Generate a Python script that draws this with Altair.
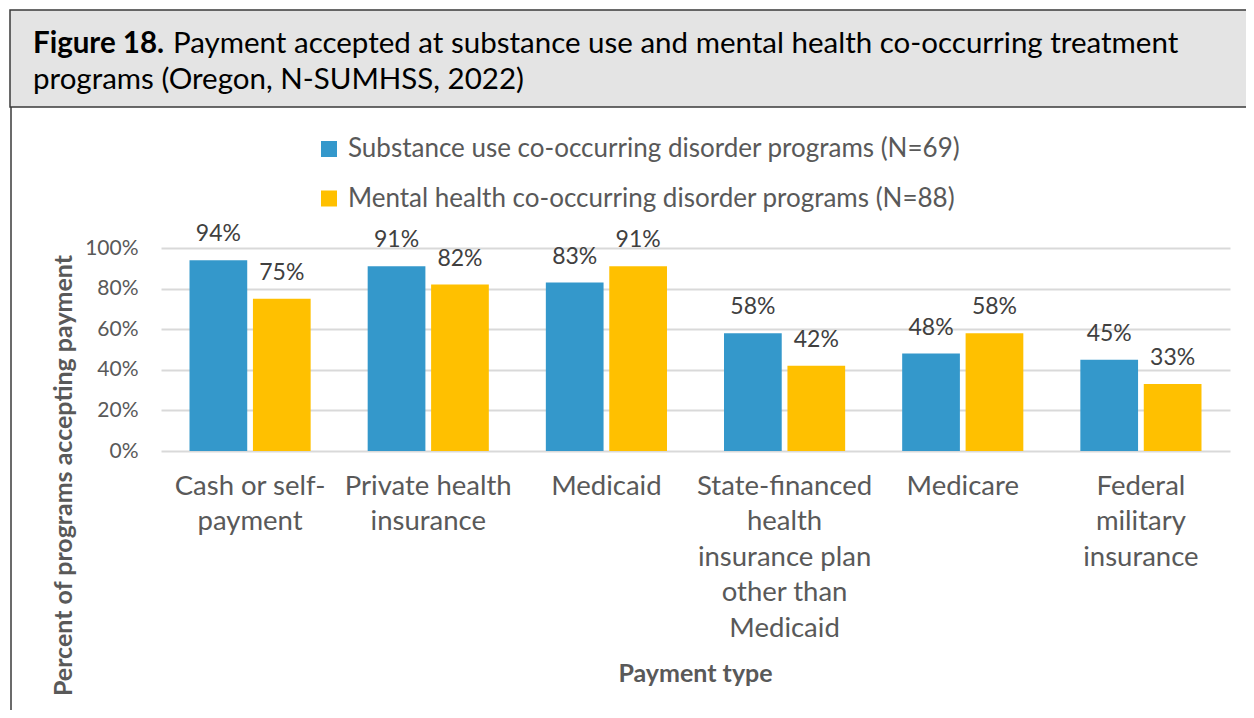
import altair as alt
import pandas as pd

categories = [
    "Cash or self-payment",
    "Private health insurance",
    "Medicaid",
    "State-financed health insurance plan other than Medicaid",
    "Medicare",
    "Federal military insurance",
]
label_lines = [
    ["Cash or self-", "payment"],
    ["Private health", "insurance"],
    ["Medicaid"],
    ["State-financed", "health", "insurance plan", "other than", "Medicaid"],
    ["Medicare"],
    ["Federal", "military", "insurance"],
]
series = [
    "Substance use co-occurring disorder programs (N=69)",
    "Mental health co-occurring disorder programs (N=88)",
]
substance_vals = [94, 91, 83, 58, 48, 45]
mental_vals = [75, 82, 91, 42, 58, 33]
colors = ["#3498CB", "#FFC000"]
y_ticks = [0, 20, 40, 60, 80, 100]

title_bold = "Figure 18."
title_line1 = "Payment accepted at substance use and mental health co-occurring treatment"
title_line2 = "programs (Oregon, N-SUMHSS, 2022)"

rows = []
for c, a, b in zip(categories, substance_vals, mental_vals):
    rows.append({"category": c, "series": series[0], "value": a})
    rows.append({"category": c, "series": series[1], "value": b})
df = pd.DataFrame(rows)

FONT = "Lato"
W, H = 1069, 203
PL, PT = 153, 240
TOTAL_W, TOTAL_H = 1238, 702

mapping = "{" + ",".join(
    '"%s":[%s]' % (c, ",".join('"%s"' % s for s in lines))
    for c, lines in zip(categories, label_lines)
) + "}"

x_enc = alt.X(
    "category:N",
    sort=categories,
    scale=alt.Scale(paddingInner=0.32, paddingOuter=0.16),
    axis=alt.Axis(
        title="Payment type",
        titleFont=FONT,
        titleFontSize=25,
        titleFontWeight="bold",
        titleColor="#595959",
        titleX=534,
        titleY=230,
        titleAnchor="start",
        titleAlign="center",
        titleBaseline="alphabetic",
        labelExpr=mapping + "[datum.label]",
        labelFont=FONT,
        labelFontSize=27.5,
        labelColor="#595959",
        labelLineHeight=35.5,
        labelPadding=21,
        labelAngle=0,
        ticks=False,
        domain=False,
    ),
)
xoff = alt.XOffset("series:N", sort=series, scale=alt.Scale(paddingInner=0.09))
y_enc = alt.Y(
    "value:Q",
    scale=alt.Scale(domain=[0, 100]),
    axis=alt.Axis(
        values=y_ticks,
        labelExpr="datum.value + '%'",
        labelFont=FONT,
        labelFontSize=21,
        labelColor="#595959",
        labelPadding=23,
        ticks=False,
        domain=False,
        gridColor="#D9D9D9",
        gridWidth=2,
        title="Percent of programs accepting payment",
        titleFont=FONT,
        titleFontSize=25,
        titleFontWeight="bold",
        titleColor="#595959",
        titleX=-98,
        titleY=227,
        titleAngle=270,
        titleAlign="center",
        titleBaseline="middle",
    ),
)

base = alt.Chart(df).encode(x=x_enc, xOffset=xoff, y=y_enc)

bars = base.mark_bar().encode(
    color=alt.Color(
        "series:N",
        sort=series,
        scale=alt.Scale(domain=series, range=colors),
        legend=alt.Legend(
            title=None,
            orient="none",
            legendX=155,
            legendY=-112,
            direction="vertical",
            symbolType="square",
            symbolSize=256,
            symbolStrokeWidth=0,
            labelFont=FONT,
            labelFontSize=26,
            labelColor="#595959",
            labelOffset=6,
            rowPadding=23.5,
            labelLimit=1000,
        ),
    )
)

texts = base.mark_text(
    font=FONT, fontSize=23, color="#404040", baseline="alphabetic", dy=-19
).encode(text="label:N").transform_calculate(label="datum.value + '%'")

one = pd.DataFrame({"k": [0]})

title_box = alt.Chart(one).mark_rect(
    fill="#E4E4E4", stroke="#3A3A3A", strokeWidth=1.5
).encode(
    x=alt.value(-151), x2=alt.value(1110), y=alt.value(-238), y2=alt.value(-141)
)
left_rule = alt.Chart(one).mark_rule(color="#3A3A3A", strokeWidth=1.5).encode(
    x=alt.value(-150), y=alt.value(-141), y2=alt.value(480)
)
TFS = 29.5
t_bold = alt.Chart(one).mark_text(
    font=FONT, fontSize=TFS, fontWeight="bold", color="#000000",
    align="left", baseline="alphabetic"
).encode(x=alt.value(-128), y=alt.value(53 - 248), text=alt.value(title_bold))
t_l1 = alt.Chart(one).mark_text(
    font=FONT, fontSize=TFS, color="#000000", align="left", baseline="alphabetic"
).encode(x=alt.value(12), y=alt.value(53 - 248), text=alt.value(title_line1))
t_l2 = alt.Chart(one).mark_text(
    font=FONT, fontSize=TFS, color="#000000", align="left", baseline="alphabetic"
).encode(x=alt.value(-128), y=alt.value(89 - 248), text=alt.value(title_line2))

chart = alt.layer(
    title_box, left_rule, t_bold, t_l1, t_l2, bars, texts
).properties(
    width=W,
    height=H,
    autosize=alt.AutoSizeParams(type="none"),
    padding={"left": PL, "top": PT, "right": TOTAL_W - PL - W, "bottom": TOTAL_H - PT - H},
    background="white",
).configure_view(stroke=None)

chart.save("out.html", embed_options={"renderer": "svg", "actions": False})
